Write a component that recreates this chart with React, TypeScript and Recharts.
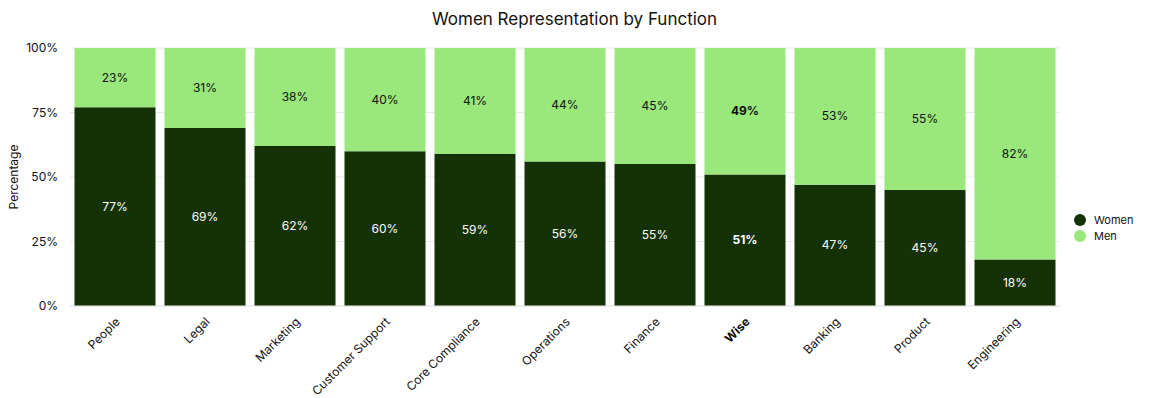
import React from 'react';
import { BarChart, Bar, XAxis, YAxis, CartesianGrid, LabelList } from 'recharts';

const functions = ['People', 'Legal', 'Marketing', 'Customer Support', 'Core Compliance', 'Operations', 'Finance', 'Wise', 'Banking', 'Product', 'Engineering'];
const women = [77, 69, 62, 60, 59, 56, 55, 51, 47, 45, 18];
const men = [23, 31, 38, 40, 41, 44, 45, 49, 53, 55, 82];
const yTicks = [0, 25, 50, 75, 100];

const DARK = '#143205';
const LIGHT = '#9ae77b';
const FONT = 'Inter, "Noto Sans", sans-serif';

const rows = functions.map((name, i) => ({ name, women: women[i], men: men[i] }));

function XTick(props: any) {
  const { x, y, payload } = props;
  const bold = payload.value === 'Wise';
  return (
    <g transform={`translate(${x},${y})`}>
      <text x={-2} y={6} dy={4} textAnchor="end" transform="rotate(-45)" fontSize={12}
        fontWeight={bold ? 700 : 400} fill="#111" fontFamily={FONT}>
        {payload.value}
      </text>
    </g>
  );
}

function makeLabel(color: string) {
  return (props: any) => {
    const { x, y, width, height, value, index } = props;
    const bold = functions[index] === 'Wise';
    return (
      <text x={x + width / 2} y={y + height / 2} dy={4} textAnchor="middle" fontSize={12}
        fontWeight={bold ? 700 : 400} fill={color} fontFamily={FONT}>
        {value}%
      </text>
    );
  };
}

function LegendBox() {
  const items = [{ label: 'Women', color: DARK }, { label: 'Men', color: LIGHT }];
  return (
    <div style={{ position: 'absolute', left: 1074, top: 204, fontFamily: FONT, fontSize: 11, color: '#111' }}>
      {items.map(it => (
        <div key={it.label} style={{ display: 'flex', alignItems: 'center', height: 16 }}>
          <span style={{ width: 12, height: 12, borderRadius: 6, background: it.color, marginRight: 8, display: 'inline-block' }} />
          {it.label}
        </div>
      ))}
    </div>
  );
}

export default function App() {
  return (
    <div style={{ position: 'relative', width: 1141, height: 390, marginLeft: -8, fontFamily: FONT }}>
      <div style={{ position: 'absolute', top: 1, left: 8, width: 1133, textAlign: 'center', fontSize: 17, color: '#111' }}>
        Women Representation by Function
      </div>
      <BarChart width={1141} height={390} data={rows} margin={{ top: 40, right: 81, bottom: 0, left: 8 }}
        barCategoryGap="5%">
        <CartesianGrid vertical={false} stroke="#e8e8e8" />
        <XAxis dataKey="name" interval={0} tick={<XTick />} tickLine={false} axisLine={{ stroke: '#e8e8e8' }} height={92} />
        <YAxis domain={[0, 100]} ticks={yTicks} tickFormatter={(v: number) => `${v}%`} width={62}
          tickLine={false} axisLine={false} tickSize={0} tickMargin={12}
          tick={{ fontSize: 12, fill: '#111', fontFamily: FONT }}
          label={{ value: 'Percentage', angle: -90, position: 'insideLeft', offset: 0, dx: 6, style: { fontSize: 12, fill: '#111', fontFamily: FONT, textAnchor: 'middle' } }} />
        <Bar dataKey="women" name="Women" stackId="a" fill={DARK} isAnimationActive={false}>
          <LabelList dataKey="women" content={makeLabel('#ffffff')} />
        </Bar>
        <Bar dataKey="men" name="Men" stackId="a" fill={LIGHT} isAnimationActive={false}>
          <LabelList dataKey="men" content={makeLabel('#111111')} />
        </Bar>
      </BarChart>
      <LegendBox />
    </div>
  );
}
